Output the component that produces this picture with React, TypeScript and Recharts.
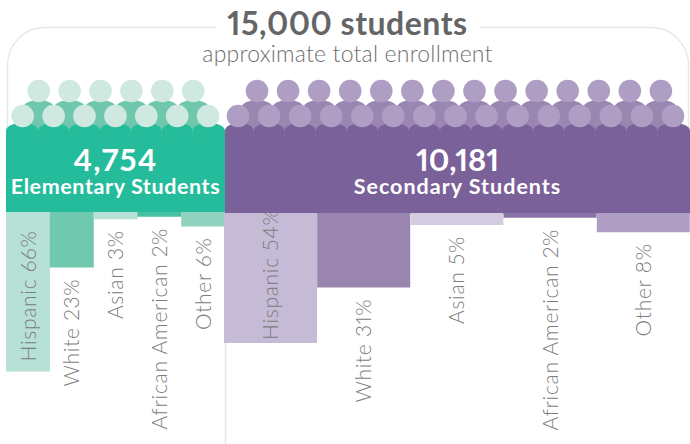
import React from 'react';
import { BarChart, Bar, Cell, XAxis, YAxis, LabelList } from 'recharts';

const groups = ['Hispanic', 'White', 'Asian', 'African American', 'Other'];
const elementaryShares = [66, 23, 3, 2, 6];
const secondaryShares = [54, 31, 5, 2, 8];

const elementaryColors = ['#b7e1d6', '#70c8af', '#b7e1d6', '#47c0a4', '#90d2bd'];
const secondaryColors = ['#c6bbd6', '#9a84b0', '#d3cbe0', '#8a72a6', '#af9ec3'];

const elementaryTotal = '4,754';
const secondaryTotal = '10,181';

const AXIS_MAX = 96;
const FONT = 'Lato, sans-serif';
const LABEL_COLOR = '#7c7c7c';

const toRows = (shares: number[]) => shares.map((share, i) => ({ group: groups[i], share }));

// rotated label: inside the bar when it is long enough, otherwise just below it
const ShareLabel = (props: any, shares: number[], inset: number) => {
  const { x, y, width, height, index } = props;
  const share = shares[index];
  const cx = x + width / 2 - 1;
  const end = Math.max(y, y + height); // reversed axis gives a negative height
  const inside = share > 50;
  const py = inside ? end - inset : end + 11;
  return (
    <text
      x={cx}
      y={py}
      transform={`rotate(-90 ${cx} ${py})`}
      textAnchor={inside ? 'start' : 'end'}
      dominantBaseline="central"
      fontFamily={FONT}
      fontWeight={300}
      fontSize={21}
      fill={LABEL_COLOR}
      letterSpacing={0.7}
      style={{ fontVariantNumeric: 'proportional-nums' }}
    >
      {groups[index]} {share}%
    </text>
  );
};

const ShareBars = ({ shares, colors, width, height, inset }: any) => (
  <BarChart width={width} height={height} data={toRows(shares)} margin={{ top: 0, right: 0, bottom: 0, left: 0 }} barCategoryGap={0}>
    <XAxis dataKey="group" hide />
    <YAxis hide reversed domain={[0, AXIS_MAX]} />
    <Bar dataKey="share" isAnimationActive={false}>
      {shares.map((_: number, i: number) => <Cell key={i} fill={colors[i]} />)}
      <LabelList dataKey="share" content={(p: any) => ShareLabel(p, shares, inset)} />
    </Bar>
  </BarChart>
);

// one row of little people: arched shoulders with a head on top
const People = ({ first, count, step, top, headY, headFill, bodyFill, left, right }: any) => {
  const xs = Array.from({ length: count }, (_, i) => first + i * step);
  return (
    <g>
      {xs.map((cx, i) => {
        const x0 = i === 0 && left !== undefined ? left : cx - step / 2;
        const x1 = i === count - 1 && right !== undefined ? right : cx + step / 2;
        return <rect key={i} x={x0} y={top} width={x1 - x0} height={40} rx={step / 2} ry={8} fill={bodyFill} />;
      })}
      {xs.map((cx, i) => <circle key={i} cx={cx} cy={headY} r={11.3} fill={headFill} />)}
    </g>
  );
};

const Block = ({ x, width, backFirst, backCount, frontFirst, frontCount, step, headFill, backFill, mainFill, total, name, bottom, totalSpacing, nameSpacing }: any) => (
  <g>
    <People first={backFirst} count={backCount} step={step} top={100} headY={91} headFill={headFill} bodyFill={backFill} />
    <People first={frontFirst} count={frontCount} step={step} top={123} headY={116} headFill={headFill} bodyFill={mainFill} left={x} right={x + width} />
    <rect x={x} y={137} width={width} height={bottom - 137} fill={mainFill} />
    <text x={x + width / 2} y={171} textAnchor="middle" fontFamily={FONT} fontWeight={700} fontSize={31} fill="#fff" letterSpacing={totalSpacing} style={{ fontVariantNumeric: 'proportional-nums' }}>{total}</text>
    <text x={x + width / 2} y={194} textAnchor="middle" fontFamily={FONT} fontWeight={700} fontSize={21.5} fill="#fff" letterSpacing={nameSpacing}>{name}</text>
  </g>
);

export default function App() {
  return (
    <div style={{ position: 'absolute', left: 0, top: 0, width: 690, height: 444, background: '#fff', overflow: 'hidden' }}>
      <svg width={690} height={444} style={{ position: 'absolute', left: 0, top: 0 }}>
        <path d="M216 27.5 H45 A37.5 37.5 0 0 0 7.5 65 V130 M480 27.5 H651 A37.5 37.5 0 0 1 688.5 65 V130 M225.5 212 V444" fill="none" stroke="#e8e8e8" strokeWidth={1.5} />
        <text x={347.5} y={35} textAnchor="middle" fontFamily={FONT} fontWeight={700} fontSize={32} fill="#646567" letterSpacing={0.5} style={{ fontVariantNumeric: 'proportional-nums' }}>15,000 students</text>
        <text x={347.5} y={62} textAnchor="middle" fontFamily={FONT} fontWeight={300} fontSize={23} fill="#707070" letterSpacing={0.2}>approximate total enrollment</text>
        <Block x={6} width={219} backFirst={38.7} backCount={6} frontFirst={22.7} frontCount={7} step={30.9}
          headFill="#cfe9e0" backFill="#6fc7ae" mainFill="#25bc9c" total={elementaryTotal} name="Elementary Students" bottom={213} totalSpacing={1.2} nameSpacing={0.6} />
        <Block x={225} width={465} backFirst={257} backCount={14} frontFirst={238} frontCount={15} step={31.07}
          headFill="#af9ec4" backFill="#9b85b1" mainFill="#7b6199" total={secondaryTotal} name="Secondary Students" bottom={214} totalSpacing={0} nameSpacing={1} />
      </svg>
      <div style={{ position: 'absolute', left: 6, top: 212 }}>
        <ShareBars shares={elementaryShares} colors={elementaryColors} width={219} height={232} inset={10} />
      </div>
      <div style={{ position: 'absolute', left: 224, top: 213 }}>
        <ShareBars shares={secondaryShares} colors={secondaryColors} width={466} height={231} inset={3} />
      </div>
    </div>
  );
}
